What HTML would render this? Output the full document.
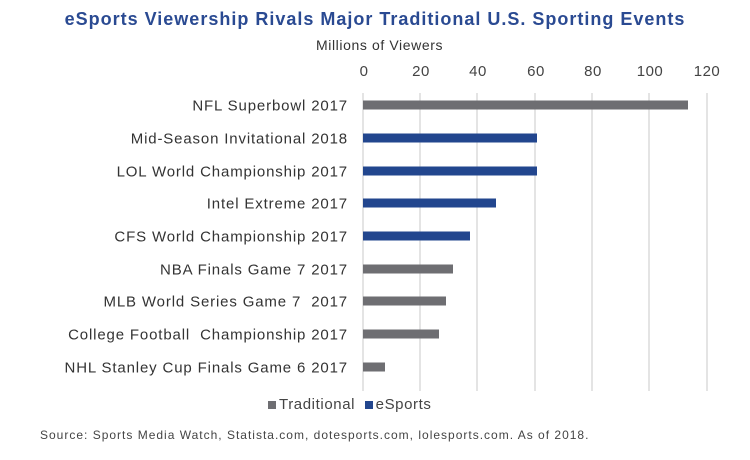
<!DOCTYPE html>
<html><head><style>
body{margin:0;width:750px;height:460px;background:#fff;font-family:"Liberation Sans",sans-serif;position:relative;overflow:hidden}
.t{position:absolute;white-space:nowrap}
.lab{position:absolute;right:402px;font-size:15px;letter-spacing:0.85px;color:#333;white-space:nowrap;transform:translateY(-50%)}
.g{position:absolute;top:93px;height:298px;width:2px;background:#e4e4e4}
.b{position:absolute;left:363px;height:9px;transform:translateY(-50%)}
.tick{position:absolute;top:63px;font-size:15px;letter-spacing:0.5px;color:#444;transform:translateX(-50%)}
</style></head><body>
<div class="t" style="left:0;width:750px;text-align:center;top:9px;font-size:18px;letter-spacing:1px;font-weight:bold;color:#2a4a92">eSports Viewership Rivals Major Traditional U.S. Sporting Events</div>
<div class="t" style="left:316px;top:37px;font-size:14px;letter-spacing:0.6px;color:#333">Millions of Viewers</div>
<div class="tick" style="left:364px">0</div><div class="tick" style="left:421px">20</div><div class="tick" style="left:478px">40</div><div class="tick" style="left:536px">60</div><div class="tick" style="left:593px">80</div><div class="tick" style="left:650px">100</div><div class="tick" style="left:707px">120</div>
<div class="g" style="left:362px"></div><div class="g" style="left:419px"></div><div class="g" style="left:476px"></div><div class="g" style="left:534px"></div><div class="g" style="left:591px"></div><div class="g" style="left:648px"></div><div class="g" style="left:706px"></div>
<div class="b" style="top:105px;width:325px;background:#6e6e72"></div>
<div class="b" style="top:138px;width:174px;background:#22468e"></div>
<div class="b" style="top:171px;width:174px;background:#22468e"></div>
<div class="b" style="top:203px;width:133px;background:#22468e"></div>
<div class="b" style="top:236px;width:107px;background:#22468e"></div>
<div class="b" style="top:269px;width:90px;background:#6e6e72"></div>
<div class="b" style="top:301px;width:83px;background:#6e6e72"></div>
<div class="b" style="top:334px;width:76px;background:#6e6e72"></div>
<div class="b" style="top:367px;width:22px;background:#6e6e72"></div>
<div class="lab" style="top:106px">NFL Superbowl 2017</div>
<div class="lab" style="top:139px">Mid-Season Invitational 2018</div>
<div class="lab" style="top:172px">LOL World Championship 2017</div>
<div class="lab" style="top:204px">Intel Extreme 2017</div>
<div class="lab" style="top:237px">CFS World Championship 2017</div>
<div class="lab" style="top:270px">NBA Finals Game 7 2017</div>
<div class="lab" style="top:302px">MLB World Series Game 7&nbsp; 2017</div>
<div class="lab" style="top:335px">College Football&nbsp; Championship 2017</div>
<div class="lab" style="top:368px">NHL Stanley Cup Finals Game 6 2017</div>
<div class="t" style="left:268px;top:396px;font-size:15px;letter-spacing:0.6px;color:#444"><span style="display:inline-block;width:8px;height:8px;background:#6e6e72;margin-right:3px"></span>Traditional&nbsp; <span style="display:inline-block;width:8px;height:8px;background:#22468e;margin-right:3px"></span>eSports</div>
<div class="t" style="left:40px;top:428px;font-size:12px;letter-spacing:1px;color:#444">Source: Sports Media Watch, Statista.com, dotesports.com, lolesports.com. As of 2018.</div>
</body></html>
